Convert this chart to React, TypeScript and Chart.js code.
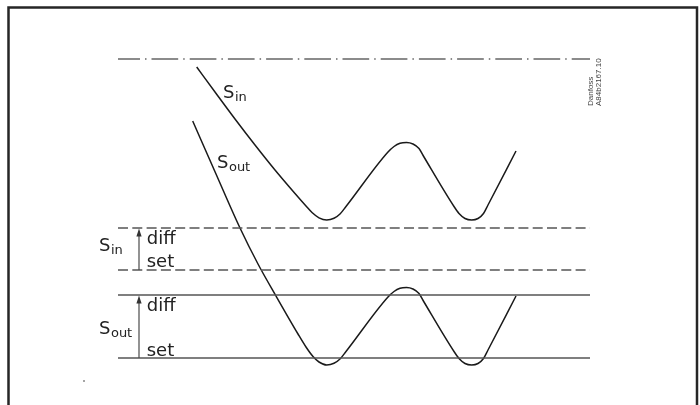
import { useEffect, useRef } from "react";
import { Chart, registerables } from "chart.js";

Chart.register(...registerables);

// ---- data (x: time, y: measured value; 0 = S_out set point) ----
const lineStart = 0;
const lineEnd = 472;
const topLimit = 299;
const sinDiff = 130;
const sinSet = 88;
const soutDiff = 63;
const soutSet = 0;

const sinX = [78.7, 97, 117, 137, 157, 177, 188, 194, 201, 208.7, 216, 222, 228, 270, 276, 282, 288.5, 295, 301, 306, 336, 341, 347, 353.7, 360, 365.5, 370, 398];
const sinY = [291, 266, 239, 213, 188, 164.5, 152, 145.5, 140.2, 138, 139.7, 144, 151.5, 206, 211.5, 214.7, 215.5, 214, 209.5, 201, 151.5, 144.5, 139.5, 138, 139.5, 144.5, 153, 207];

const soutX = [74.7, 98, 122, 140, 158, 180, 188, 195, 201, 208.7, 216, 222, 228, 270, 276, 282, 288.5, 295, 301, 306, 336, 341, 347, 353.7, 360, 365.5, 370, 398];
const soutY = [237, 184, 130, 94, 62, 24, 11, 1.5, -4, -7, -5.3, -1, 6.5, 61, 66.5, 69.7, 70.5, 69, 64.5, 56, 6.5, -0.5, -5.5, -7, -5.5, -0.5, 8, 62];

const bandLabels = ["diff", "set", "diff", "set"];
const bandLabelX = 28.7;
const bandLabelY = [114, 91.3, 47, 2];

const arrowX = 21;
const arrowFrom = [sinSet, soutSet];
const arrowTo = [sinDiff, soutDiff];

const signalMain = ["S", "S", "S", "S"];
const signalSub = ["in", "out", "in", "out"];
const signalX = [-19, -19, 105, 99];
const signalY = [107, 24, 260.5, 190];

const codeLines = ["Danfoss", "A84b2167.10"];
const codeX = [473, 480.5];
const codeY = 252;

const dotX = [-34];
const dotY = [-23];

const xMin = -118;
const xMax = 582;
const yMin = -47;
const yMax = 358;

const pts = (xs: number[], ys: number[]) => xs.map((x, i) => ({ x, y: ys[i] }));
const hline = (y: number) => [
  { x: lineStart, y },
  { x: lineEnd, y },
];

const FONT = "'DejaVu Sans', sans-serif";

const overlayPlugin = {
  id: "overlay",
  afterDatasetsDraw(chart: any) {
    const ctx: CanvasRenderingContext2D = chart.ctx;
    const xs = chart.scales.x;
    const ys = chart.scales.y;
    ctx.save();

    // frame
    ctx.strokeStyle = "#262626";
    ctx.lineWidth = 2.5;
    ctx.beginPath();
    ctx.moveTo(8.5, 420);
    ctx.lineTo(8.5, 7.5);
    ctx.lineTo(697, 7.5);
    ctx.lineTo(697, 420);
    ctx.stroke();

    // arrows
    ctx.strokeStyle = "#4a4a4a";
    ctx.fillStyle = "#333";
    ctx.lineWidth = 1.2;
    for (let i = 0; i < arrowFrom.length; i++) {
      const px = xs.getPixelForValue(arrowX);
      const y0 = ys.getPixelForValue(arrowFrom[i]);
      const y1 = ys.getPixelForValue(arrowTo[i]);
      ctx.beginPath();
      ctx.moveTo(px, y0);
      ctx.lineTo(px, y1 + 6);
      ctx.stroke();
      ctx.beginPath();
      ctx.moveTo(px, y1 + 0.5);
      ctx.lineTo(px - 2.6, y1 + 8.5);
      ctx.lineTo(px + 2.6, y1 + 8.5);
      ctx.closePath();
      ctx.fill();
    }

    // band labels
    ctx.fillStyle = "#222";
    ctx.textBaseline = "alphabetic";
    ctx.textAlign = "left";
    ctx.font = `18px ${FONT}`;
    bandLabels.forEach((t, i) => {
      ctx.fillText(t, xs.getPixelForValue(bandLabelX), ys.getPixelForValue(bandLabelY[i]));
    });

    // signal labels
    signalMain.forEach((m, i) => {
      const px = xs.getPixelForValue(signalX[i]);
      const py = ys.getPixelForValue(signalY[i]);
      ctx.font = `18px ${FONT}`;
      ctx.fillText(m, px, py);
      const w = ctx.measureText(m).width;
      ctx.font = `13px ${FONT}`;
      ctx.fillText(signalSub[i], px + w + 0.5, py + 3);
    });

    // drawing code
    ctx.fillStyle = "#444";
    ctx.font = `8px 'Liberation Sans', sans-serif`;
    codeLines.forEach((t, i) => {
      const px = xs.getPixelForValue(codeX[i]);
      const py = ys.getPixelForValue(codeY);
      ctx.save();
      ctx.translate(px, py);
      ctx.rotate(-Math.PI / 2);
      ctx.textBaseline = "middle";
      ctx.fillText(t, 0, 0);
      ctx.restore();
    });

    ctx.restore();
  },
};

export default function App() {
  const ref = useRef<HTMLCanvasElement | null>(null);

  useEffect(() => {
    document.body.style.overflow = "hidden";
    if (!ref.current) return;
    const grey = "#555";
    const chart = new Chart(ref.current, {
      type: "line",
      data: {
        datasets: [
          {
            data: hline(topLimit),
            borderColor: "#666",
            borderWidth: 1.4,
            borderDash: [26.7, 5, 1.5, 5],
            borderDashOffset: 4.7,
          },
          { data: hline(sinDiff), borderColor: grey, borderWidth: 1.3, borderDash: [10, 4.3] },
          { data: hline(sinSet), borderColor: grey, borderWidth: 1.3, borderDash: [10, 4.3] },
          { data: hline(soutDiff), borderColor: grey, borderWidth: 1.3 },
          { data: hline(soutSet), borderColor: grey, borderWidth: 1.3 },
          {
            data: pts(sinX, sinY),
            borderColor: "#1a1a1a",
            borderWidth: 1.5,
            cubicInterpolationMode: "monotone",
          },
          {
            data: pts(soutX, soutY),
            borderColor: "#1a1a1a",
            borderWidth: 1.5,
            cubicInterpolationMode: "monotone",
          },
          {
            type: "scatter",
            data: pts(dotX, dotY),
            pointRadius: 0.8,
            backgroundColor: "#333",
            borderWidth: 0,
          } as any,
        ],
      },
      options: {
        animation: false,
        responsive: false,
        layout: { padding: 0, autoPadding: false },
        elements: { point: { radius: 0 } },
        plugins: { legend: { display: false }, tooltip: { enabled: false } },
        scales: {
          x: { type: "linear", min: xMin, max: xMax, display: false },
          y: { type: "linear", min: yMin, max: yMax, display: false },
        },
      },
      plugins: [overlayPlugin],
    });
    return () => chart.destroy();
  }, []);

  return (
    <div style={{ position: "fixed", left: 0, top: 0, width: 700, height: 405, background: "#fff" }}>
      <canvas ref={ref} width={700} height={405} style={{ display: "block", width: 700, height: 405 }} />
    </div>
  );
}
